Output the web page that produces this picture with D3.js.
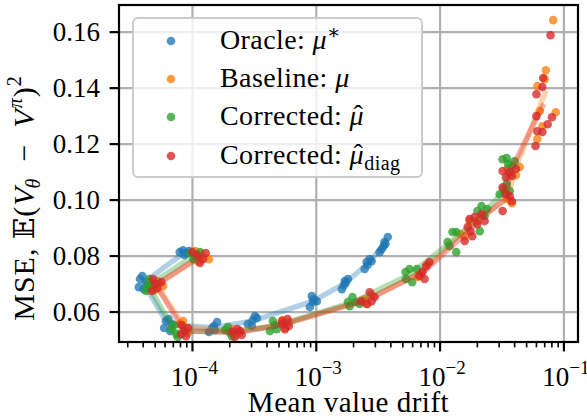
<!DOCTYPE html>
<html>
<head>
<meta charset="utf-8">
<script src="https://cdn.jsdelivr.net/npm/d3@7"></script>
<style>
  body { margin: 0; background: #fff; }
  svg { display: block; font-family: "Liberation Serif", "DejaVu Serif", serif; }
</style>
</head>
<body>
<svg></svg>
<script>
// each series: list of clusters (one per setting), each cluster = [drift, mse] per seed
const oracle = [
  [[7.9e-5,0.0814],[8.4e-5,0.0821],[8.9e-5,0.0811],[9.4e-5,0.0818],[8.6e-5,0.0804]],
  [[3.77e-5,0.0718],[3.93e-5,0.0729],[3.69e-5,0.0689],[4.22e-5,0.0707],[4.05e-5,0.0682],[4.38e-5,0.0700]],
  [[5.9e-5,0.0543],[6.1e-5,0.0568],[6.4e-5,0.0575],[6.6e-5,0.0532],[6.8e-5,0.0557]],
  [[1.36e-4,0.0529],[1.44e-4,0.0543],[1.49e-4,0.0550],[1.58e-4,0.0564],[1.52e-4,0.0536]],
  [[2.8e-4,0.0557],[3.02e-4,0.0550],[3.19e-4,0.0586],[3.07e-4,0.0571],[3.32e-4,0.0579]],
  [[8.87e-4,0.0618],[9.2e-4,0.0657],[1.01e-3,0.0639],[9.4e-4,0.0636],[9.55e-4,0.0646]],
  [[1.61e-3,0.0682],[1.70e-3,0.0711],[1.80e-3,0.0718],[1.67e-3,0.0696],[1.73e-3,0.0704]],
  [[2.46e-3,0.0754],[2.55e-3,0.0779],[2.70e-3,0.0789],[2.60e-3,0.0768],[2.80e-3,0.0782]],
  [[3.25e-3,0.0814],[3.38e-3,0.0825],[3.56e-3,0.0850],[3.78e-3,0.0868],[3.50e-3,0.0836],[3.62e-3,0.0843]]
];
const baseline = [
  [[1.05e-4,0.0818],[1.15e-4,0.0807],[1.26e-4,0.0796],[1.36e-4,0.0789],[1.11e-4,0.0782]],
  [[4.6e-5,0.0704],[5.2e-5,0.0711],[5.8e-5,0.0693],[5.0e-5,0.0679]],
  [[7.9e-5,0.0557],[8.9e-5,0.0539],[8.4e-5,0.0568],[9.2e-5,0.0525]],
  [[2.08e-4,0.0539],[2.42e-4,0.0529],[2.25e-4,0.0518]],
  [[5.35e-4,0.0571],[6.0e-4,0.0564],[5.65e-4,0.0543]],
  [[2.46e-3,0.0646],[2.8e-3,0.0661],[2.6e-3,0.0629]],
  [[7.0e-3,0.0736],[7.9e-3,0.0771],[6.6e-3,0.0725]],
  [[1.58e-2,0.0871],[1.73e-2,0.0925],[1.45e-2,0.0879]],
  [[2.0e-2,0.0925],[2.2e-2,0.0946]],
  [[3.32e-2,0.1029],[3.8e-2,0.0989],[3.5e-2,0.1004]],
  [[4.1e-2,0.1089],[3.5e-2,0.1111],[4.4e-2,0.1118]],
  [[8.2e-2,0.1643],[7.15e-2,0.1464],[7.0e-2,0.1432],[6.1e-2,0.1407],[6.4e-2,0.1318],[8.6e-2,0.1314],[6.7e-2,0.1264],[6.1e-2,0.1218]]
];
const corrected = [
  [[9.55e-5,0.0811],[1.05e-4,0.0800],[1.15e-4,0.0814],[1.02e-4,0.0789]],
  [[4.22e-5,0.0675],[4.46e-5,0.0718],[4.6e-5,0.0696],[4.3e-5,0.0689]],
  [[6.8e-5,0.0539],[7.4e-5,0.0521],[7.1e-5,0.0554],[7.6e-5,0.0511]],
  [[1.83e-4,0.0536],[1.93e-4,0.0546],[2.08e-4,0.0514],[2.01e-4,0.0525]],
  [[4.22e-4,0.0532],[4.46e-4,0.0568],[4.63e-4,0.0554],[4.8e-4,0.0539]],
  [[1.86e-3,0.0621],[1.96e-3,0.0654],[2.08e-3,0.0636],[2.24e-3,0.0629],[1.80e-3,0.0636]],
  [[5.26e-3,0.0743],[5.66e-3,0.0754],[5.95e-3,0.0707],[6.5e-3,0.0754],[5.3e-3,0.0718]],
  [[1.15e-2,0.0850],[1.19e-2,0.0836],[1.26e-2,0.0886],[1.35e-2,0.0814],[1.35e-2,0.0886]],
  [[2.16e-2,0.0979],[2.29e-2,0.0943],[2.09e-2,0.0889],[2.0e-2,0.0961],[2.4e-2,0.0968]],
  [[3.03e-2,0.1021],[3.25e-2,0.1039],[3.45e-2,0.1057],[3.65e-2,0.1032]],
  [[3.2e-2,0.1146],[3.45e-2,0.1150],[4.0e-2,0.1139],[3.8e-2,0.1121],[3.55e-2,0.1128]]
];
const correctedDiag = [
  [[1.0e-4,0.0814],[1.09e-4,0.0804],[1.21e-4,0.0789],[1.28e-4,0.0811],[1.15e-4,0.0775]],
  [[4.7e-5,0.0675],[5.0e-5,0.0700],[5.6e-5,0.0707],[5.2e-5,0.0686],[4.8e-5,0.0718]],
  [[8.2e-5,0.0554],[8.55e-5,0.0532],[8.86e-5,0.0514],[9.2e-5,0.0543],[8.1e-5,0.0521]],
  [[2.1e-4,0.0529],[2.3e-4,0.0539],[2.42e-4,0.0532],[2.2e-4,0.0511],[2.5e-4,0.0518]],
  [[5.35e-4,0.0557],[5.85e-4,0.0575],[6.0e-4,0.0550],[5.57e-4,0.0539],[5.27e-4,0.0568]],
  [[2.3e-3,0.0639],[2.55e-3,0.0629],[2.7e-3,0.0671],[2.96e-3,0.0654],[2.8e-3,0.0639]],
  [[6.8e-3,0.0729],[7.2e-3,0.0743],[7.7e-3,0.0764],[8.2e-3,0.0779],[7.5e-3,0.0718]],
  [[1.67e-2,0.0904],[1.73e-2,0.0932],[1.82e-2,0.0871],[1.58e-2,0.0854],[1.76e-2,0.0889]],
  [[1.9e-2,0.0939],[2.0e-2,0.0914],[2.16e-2,0.0950],[2.29e-2,0.0925]],
  [[3.2e-2,0.1046],[3.4e-2,0.1021],[3.65e-2,0.1014],[3.2e-2,0.0961],[3.8e-2,0.0996]],
  [[3.2e-2,0.1104],[3.8e-2,0.1086],[4.1e-2,0.1111],[3.4e-2,0.1082],[3.65e-2,0.1100]],
  [[7.8e-2,0.1589],[6.8e-2,0.1436],[6.7e-2,0.1404],[6.0e-2,0.1378],[6.0e-2,0.1300],[8.0e-2,0.1296],[7.4e-2,0.1271],[6.1e-2,0.1246],[6.7e-2,0.1243],[5.9e-2,0.1193]]
];

const yTicks = [0.06, 0.08, 0.10, 0.12, 0.14, 0.16];
const xTicks = [1e-4, 1e-3, 1e-2, 1e-1];
const xTickExp = ["\u22124", "\u22123", "\u22122", "\u22121"];

const hat = [{ t: "\u03bc", it: true }, { t: "\u02c6", dx: -10.5, sh: 1 }];
const series = [
  { data: oracle, color: "#1f77b4", label: [{ t: "Oracle:  " }, { t: "\u03bc", it: true }, { t: "\u2217", sz: 20, sh: 10 }] },
  { data: baseline, color: "#ff7f0e", label: [{ t: "Baseline:  " }, { t: "\u03bc", it: true }] },
  { data: corrected, color: "#2ca02c", label: [{ t: "Corrected:  " }, ...hat] },
  { data: correctedDiag, color: "#d62728", label: [{ t: "Corrected:  " }, ...hat, { t: "diag", sz: 20, sh: -6, dx: 1 }] }
];

const width = 587, height = 417;
const margin = { top: 5, right: 9, bottom: 75, left: 119 };
const fs = 27;

const svg = d3.select("svg").attr("width", width).attr("height", height);

const x = d3.scaleLog()
  .domain([2.55e-5, 0.13])
  .range([margin.left, width - margin.right]);
const y = d3.scaleLinear()
  .domain([0.0493, 0.1697])
  .range([height - margin.bottom, margin.top]);

const x0 = margin.left, x1 = width - margin.right;
const y0 = height - margin.bottom, y1 = margin.top;

// write mathtext-ish segments as tspans
function rich(sel, segs, size) {
  let cur = 0;
  segs.forEach(s => {
    const sh = s.sh || 0;
    sel.append("tspan")
      .attr("dx", s.dx || 0)
      .attr("dy", cur - sh)
      .attr("font-size", s.sz || size || fs)
      .attr("font-style", s.it ? "italic" : "normal")
      .text(s.t);
    cur = sh;
  });
}

// grid
svg.append("g")
  .selectAll("line")
  .data(xTicks)
  .join("line")
  .attr("x1", d => x(d)).attr("x2", d => x(d))
  .attr("y1", y1).attr("y2", y0)
  .attr("stroke", "#b0b0b0").attr("stroke-width", 2.2);
svg.append("g")
  .selectAll("line")
  .data(yTicks)
  .join("line")
  .attr("x1", x0).attr("x2", x1)
  .attr("y1", d => y(d)).attr("y2", d => y(d))
  .attr("stroke", "#b0b0b0").attr("stroke-width", 2.2);

// series: mean line + points
const line = d3.line().x(d => x(d[0])).y(d => y(d[1]));
const plot = svg.append("g");
series.forEach(s => {
  const means = s.data.map(c => [d3.mean(c, p => p[0]), d3.mean(c, p => p[1])]);
  plot.append("path")
    .datum(means)
    .attr("d", line)
    .attr("fill", "none")
    .attr("stroke", s.color)
    .attr("stroke-width", 5.4)
    .attr("stroke-opacity", 0.35)
    .attr("stroke-linejoin", "round")
    .attr("stroke-linecap", "square");
  plot.append("g")
    .selectAll("circle")
    .data(s.data.flat())
    .join("circle")
    .attr("cx", d => x(d[0]))
    .attr("cy", d => y(d[1]))
    .attr("r", 4.3)
    .attr("fill", s.color)
    .attr("fill-opacity", 0.78);
});

// ticks
const axes = svg.append("g").attr("stroke", "#000");
axes.selectAll("line.xt")
  .data(xTicks)
  .join("line")
  .attr("class", "xt")
  .attr("x1", d => x(d)).attr("x2", d => x(d))
  .attr("y1", y0).attr("y2", y0 + 9.4)
  .attr("stroke-width", 2.2);
const minor = [];
for (let e = -5; e <= -1; e++) {
  for (let k = 2; k <= 9; k++) {
    const v = k * Math.pow(10, e);
    if (v >= x.domain()[0] && v <= x.domain()[1]) minor.push(v);
  }
}
axes.selectAll("line.xm")
  .data(minor)
  .join("line")
  .attr("class", "xm")
  .attr("x1", d => x(d)).attr("x2", d => x(d))
  .attr("y1", y0).attr("y2", y0 + 5.4)
  .attr("stroke-width", 1.6);
axes.selectAll("line.yt")
  .data(yTicks)
  .join("line")
  .attr("class", "yt")
  .attr("x1", x0 - 9.4).attr("x2", x0)
  .attr("y1", d => y(d)).attr("y2", d => y(d))
  .attr("stroke-width", 2.2);

// spines
svg.append("rect")
  .attr("x", x0).attr("y", y1)
  .attr("width", x1 - x0).attr("height", y0 - y1)
  .attr("fill", "none").attr("stroke", "#000").attr("stroke-width", 2.2);

// tick labels
svg.append("g")
  .selectAll("text")
  .data(yTicks)
  .join("text")
  .attr("x", x0 - 19)
  .attr("y", d => y(d) + 9)
  .attr("text-anchor", "end")
  .attr("font-size", fs)
  .text(d => d.toFixed(2));

xTicks.forEach((d, i) => {
  const t = svg.append("text")
    .attr("x", x(d) + 2)
    .attr("y", 386)
    .attr("text-anchor", "middle");
  rich(t, [{ t: "10" }, { t: xTickExp[i], sz: 19, sh: 12 }]);
});

// axis labels
svg.append("text")
  .attr("x", (x0 + x1) / 2)
  .attr("y", 412)
  .attr("text-anchor", "middle")
  .attr("font-size", 29)
  .attr("letter-spacing", 0.5)
  .text("Mean value drift");

const yl = svg.append("text")
  .attr("transform", "translate(34,198) rotate(-90)")
  .attr("text-anchor", "middle")
  .attr("letter-spacing", 1);
rich(yl, [
  { t: "MSE,  " },
  { t: "\ud835\udd3c", sz: 28 },
  { t: "(" },
  { t: "V", it: true },
  { t: "\u03b8", it: true, sz: 20, sh: -6, dx: -2 },
  { t: "\u2002\u2212\u2002" },
  { t: "V", it: true },
  { t: "\u03c0", it: true, sz: 20, sh: 12 },
  { t: ")" },
  { t: "2", sz: 20, sh: 13 }
], 30);

// legend
const lg = svg.append("g");
lg.append("rect")
  .attr("x", 133).attr("y", 18)
  .attr("width", 289).attr("height", 159)
  .attr("rx", 5)
  .attr("fill", "#fff").attr("fill-opacity", 0.8)
  .attr("stroke", "#cccccc").attr("stroke-width", 2);
const rowY = [41, 79, 117, 156];
series.forEach((s, i) => {
  lg.append("circle")
    .attr("cx", 171).attr("cy", rowY[i])
    .attr("r", 4.3)
    .attr("fill", s.color).attr("fill-opacity", 0.78);
  const t = lg.append("text")
    .attr("x", 220)
    .attr("y", rowY[i] + 8)
    .attr("letter-spacing", 0.4);
  rich(t, s.label, 28);
});
</script>
</body>
</html>
